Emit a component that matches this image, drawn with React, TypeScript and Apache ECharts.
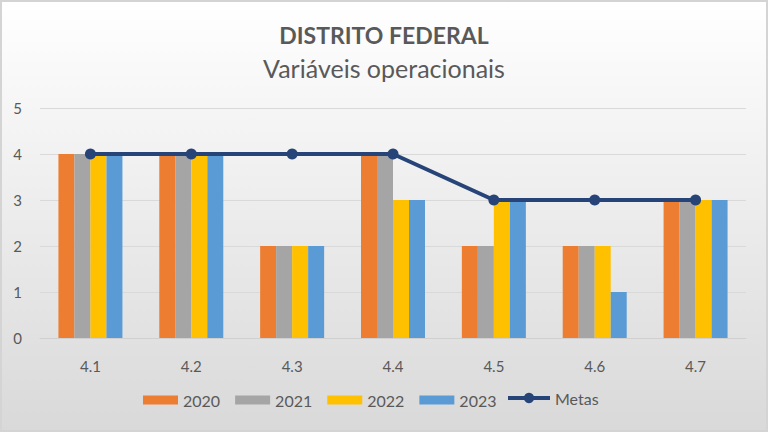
import React, { useEffect, useRef } from "react";
import * as echarts from "echarts";

const categories = ["4.1", "4.2", "4.3", "4.4", "4.5", "4.6", "4.7"];
const s2020 = [4, 4, 2, 4, 2, 2, 3];
const s2021 = [4, 4, 2, 4, 2, 2, 3];
const s2022 = [4, 4, 2, 3, 3, 2, 3];
const s2023 = [4, 4, 2, 3, 3, 1, 3];
const metas = [4, 4, 4, 4, 3, 3, 3];
const yTicks = [0, 1, 2, 3, 4, 5];

const FONT = "Lato, 'Open Sans', sans-serif";
const TXT = "#595959";

export default function App() {
  const ref = useRef<HTMLDivElement>(null);
  useEffect(() => {
    if (!ref.current) return;
    const chart = echarts.init(ref.current, undefined, { renderer: "svg" });
    const bar = (name: string, data: number[], color: string) => ({
      name,
      type: "bar",
      data,
      barWidth: 16,
      barGap: "0%",
      itemStyle: { color },
      z: 2,
    });
    chart.setOption({
      animation: false,
      backgroundColor: {
        type: "linear",
        x: 0,
        y: 0,
        x2: 0,
        y2: 1,
        colorStops: [
          { offset: 0, color: "#ffffff" },
          { offset: 1, color: "#d9d9d9" },
        ],
      },
      textStyle: { fontFamily: FONT },
      title: [
        {
          text: "DISTRITO FEDERAL",
          left: "center",
          top: 16,
          textStyle: { fontFamily: FONT, fontSize: 23, fontWeight: "bold", color: TXT },
        },
        {
          text: "Variáveis operacionais",
          left: "center",
          top: 48,
          textStyle: { fontFamily: FONT, fontSize: 25, fontWeight: "normal", color: TXT },
        },
      ],
      legend: [
        {
          left: 136,
          top: 385,
          itemWidth: 35,
          itemHeight: 9,
          itemGap: 15,
          textStyle: { fontFamily: FONT, fontSize: 16, color: TXT },
          data: [
            { name: "2020", icon: "rect" },
            { name: "2021", icon: "rect" },
            { name: "2022", icon: "rect" },
            { name: "2023", icon: "rect" },
          ],
        },
        {
          left: 499,
          top: 383,
          itemWidth: 42,
          itemHeight: 13,
          textStyle: { fontFamily: FONT, fontSize: 16, color: TXT },
          data: [
            {
              name: "Metas",
              lineStyle: { width: 4, color: "#264478" },
              itemStyle: { color: "#264478" },
            },
          ],
        },
      ],
      grid: { left: 38, right: 20, top: 106, bottom: 92 },
      xAxis: {
        type: "category",
        data: categories,
        axisLine: { lineStyle: { color: "#d0d0d0" } },
        axisTick: { show: false },
        axisLabel: { fontFamily: FONT, fontSize: 15, color: TXT, margin: 20 },
      },
      yAxis: {
        type: "value",
        min: yTicks[0],
        max: yTicks[yTicks.length - 1],
        interval: 1,
        axisLine: { show: false },
        axisTick: { show: false },
        splitLine: { lineStyle: { color: "#d9d9d9" } },
        axisLabel: { fontFamily: FONT, fontSize: 15, color: TXT, margin: 18 },
      },
      series: [
        bar("2020", s2020, "#ED7D31"),
        bar("2021", s2021, "#A5A5A5"),
        bar("2022", s2022, "#FFC000"),
        bar("2023", s2023, "#5B9BD5"),
        {
          name: "Metas",
          type: "line",
          data: metas,
          symbol: "circle",
          symbolSize: 11,
          lineStyle: { color: "#264478", width: 4 },
          itemStyle: { color: "#264478" },
          z: 5,
        },
      ],
    });
    return () => chart.dispose();
  }, []);
  return (
    <div
      style={{
        position: "fixed",
        left: 0,
        top: 0,
        width: 768,
        height: 432,
        boxSizing: "border-box",
        border: "2px solid #d4d4d4",
      }}
    >
      <div ref={ref} style={{ width: 764, height: 428 }} />
    </div>
  );
}
